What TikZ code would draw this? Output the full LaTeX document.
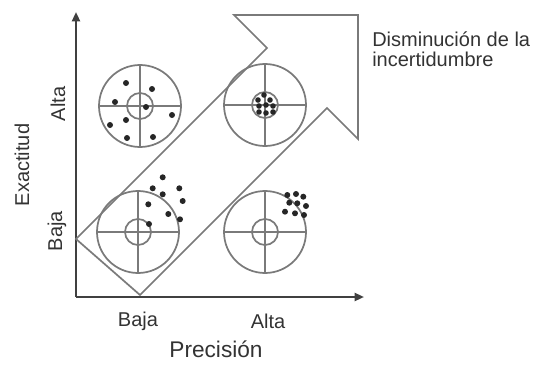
\documentclass[tikz,border=0pt]{standalone}
\usepackage{fontspec}
\setmainfont{Liberation Sans}
\usetikzlibrary{arrows.meta}
\definecolor{ln}{HTML}{7A7A7A}
\definecolor{ax}{HTML}{404040}
\definecolor{tx}{HTML}{333333}
\begin{document}
\begin{tikzpicture}[x=0.75pt,y=-0.75pt,
  lbl/.style={font=\fontsize{15}{15}\selectfont,text=tx,inner sep=0pt},
  axis/.style={draw=ax,line width=1.6pt,-{Triangle[length=7pt,width=6pt]}},
  band/.style={draw=ln,line width=1.3pt,line join=miter},
  dot/.style={fill=black!85},
  target/.pic={
    \draw[ln,line width=1.3pt] (0,0) circle[radius=41];
    \draw[ln,line width=1.3pt] (0,0) circle[radius=13];
    \draw[ln,line width=1.3pt] (-41,0) -- (41,0) (0,-41) -- (0,41);
  }]
\useasboundingbox (0,0) rectangle (545,364);
% axes
\coordinate (O) at (76,297);
\coordinate (Ytop) at (76,12);
\coordinate (Xend) at (364,297);
\draw[axis] (O) -- (Ytop);
\draw[axis] (O) -- (Xend);
% big arrow band
\draw[band] (76,239) -- (267,48) -- (234,15) -- (358,15) -- (358,139) -- (327,108) -- (140,295) -- cycle;
% targets
\pic at (140,106) {target};
\pic at (265,105) {target};
\pic at (138,232) {target};
\pic at (265,232) {target};
% dots top-left
\foreach \p in {(126,83),(152,89),(115,102),(146,107),(172,115),(126,120),(110,125),(127,138),(153,137)}
  \fill[dot] \p circle[radius=3];
% dots top-right
\foreach \p in {(264,95),(258,100),(270,100),(259,106),(266,105),(273,106),(259,112),(266,113),(273,112)}
  \fill[dot] \p circle[radius=2.8];
% dots bottom-left
\foreach \p in {(162.7,177.3),(152.7,188.3),(179.3,188.3),(162.7,194.3),(182.7,201),(148.3,204.3),(168.3,214),(180,219.3),(149,224)}
  \fill[dot] \p circle[radius=3];
% dots bottom-right
\foreach \p in {(287.3,195),(296,194),(303.3,196.7),(289.3,202.7),(297.3,203.3),(306,206),(285,211.7),(295,213.3),(304,215)}
  \fill[dot] \p circle[radius=3];
% labels
\node[lbl,rotate=90] (ya) at (58,104) {Alta};
\node[lbl,rotate=90] (yb) at (57,231) {Baja};
\node[lbl,rotate=90] (ylab) at (22,165) {Exactitud};
\node[lbl] (xb) at (138,321) {Baja};
\node[lbl] (xa) at (268,321) {Alta};
\node[lbl,font=\fontsize{17}{17}\selectfont] (xlab) at (216,349) {Precisión};
\node[lbl,align=left,anchor=north west,font=\fontsize{15}{15}\selectfont] (dis) at (372,32) {Disminución de la\\incertidumbre};
\end{tikzpicture}
\end{document}
